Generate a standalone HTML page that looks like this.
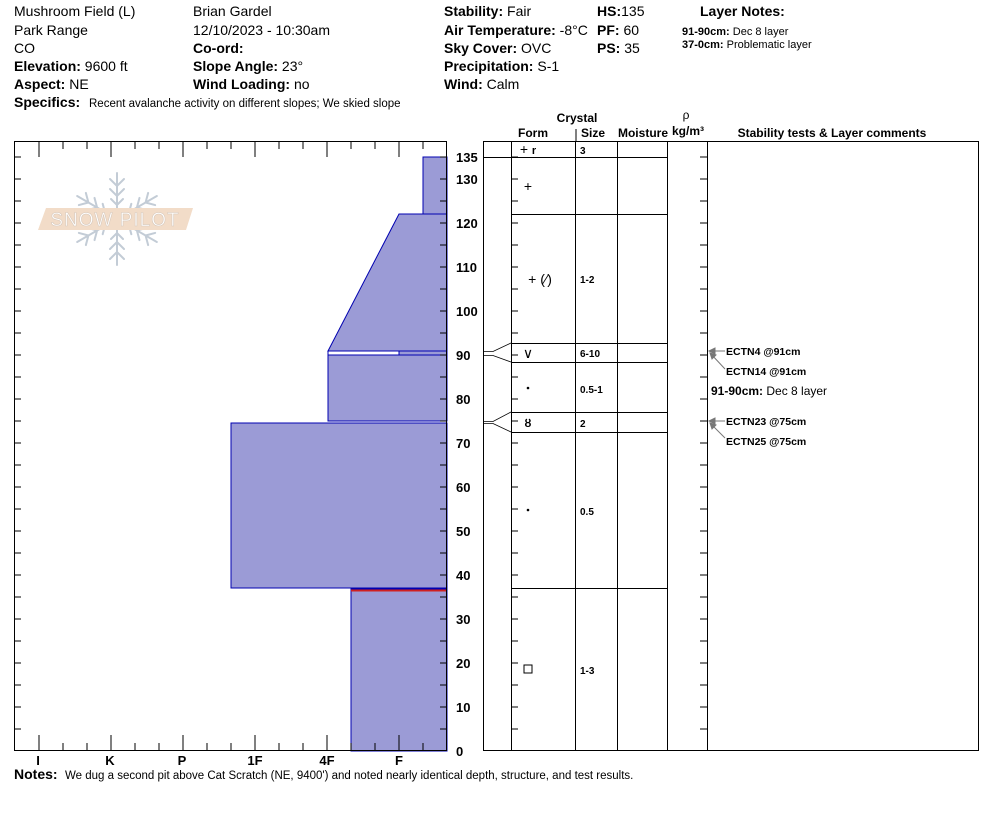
<!DOCTYPE html>
<html><head><meta charset="utf-8"><style>
body{margin:0;background:#fff;}
svg{display:block;font-family:"Liberation Sans",Arial,sans-serif;}
.b{font-weight:bold}
</style></head><body>
<svg width="994" height="840" viewBox="0 0 994 840" xmlns="http://www.w3.org/2000/svg">
<defs>
<path id="tk" d="M0 729h7M0 707h7M0 685h7M0 663h7M0 641h7M0 619h7M0 597h7M0 575h7M0 553h7M0 531h7M0 509h7M0 487h7M0 465h7M0 443h7M0 421h7M0 399h7M0 377h7M0 355h7M0 333h7M0 311h7M0 289h7M0 267h7M0 245h7M0 223h7M0 201h7M0 179h7M0 157h7" stroke="#000" stroke-width="1"/>
<g id="arm" stroke="#c3ccd6" stroke-width="2" fill="none" stroke-linecap="round">
<path d="M0 0V-46M-7 -40L0 -33L7 -40M-7 -30L0 -23L7 -30M-6 -20L0 -14L6 -20"/>
</g>
</defs>
<rect width="994" height="840" fill="#fff"/>
<!-- header -->
<g font-size="14" fill="#000">
<text x="14" y="16">Mushroom Field (L)</text>
<text x="14" y="35">Park Range</text>
<text x="14" y="53">CO</text>
<text x="14" y="71"><tspan class="b">Elevation:</tspan> 9600 ft</text>
<text x="14" y="89"><tspan class="b">Aspect:</tspan> NE</text>
<text x="193" y="16">Brian Gardel</text>
<text x="193" y="35">12/10/2023 - 10:30am</text>
<text x="193" y="53" class="b">Co-ord:</text>
<text x="193" y="71"><tspan class="b">Slope Angle:</tspan> 23°</text>
<text x="193" y="89"><tspan class="b">Wind Loading:</tspan> no</text>
<text x="444" y="16"><tspan class="b">Stability:</tspan> Fair</text>
<text x="444" y="35"><tspan class="b">Air Temperature:</tspan> -8°C</text>
<text x="444" y="53"><tspan class="b">Sky Cover:</tspan> OVC</text>
<text x="444" y="71"><tspan class="b">Precipitation:</tspan> S-1</text>
<text x="444" y="89"><tspan class="b">Wind:</tspan>  Calm</text>
<text x="597" y="16"><tspan class="b">HS:</tspan>135</text>
<text x="597" y="35"><tspan class="b">PF:</tspan> 60</text>
<text x="597" y="53"><tspan class="b">PS:</tspan> 35</text>
<text x="700" y="16" class="b">Layer Notes:</text>
</g>
<text x="682" y="35" font-size="11"><tspan class="b">91-90cm:</tspan> Dec 8 layer</text>
<text x="682" y="48" font-size="11"><tspan class="b">37-0cm:</tspan> Problematic layer</text>
<text x="14" y="107" font-size="14" class="b">Specifics:</text>
<text x="89" y="107" font-size="11.5">Recent avalanche activity on different slopes;  We skied slope</text>

<!-- logo -->
<g transform="translate(117,219)">
<use href="#arm"/>
<use href="#arm" transform="rotate(60)"/>
<use href="#arm" transform="rotate(120)"/>
<use href="#arm" transform="rotate(180)"/>
<use href="#arm" transform="rotate(240)"/>
<use href="#arm" transform="rotate(300)"/>
</g>
<polygon points="46,208 193,208 186,230 38,230" fill="#f2dcc8"/>
<text x="115" y="226" text-anchor="middle" font-size="19" fill="#fff" stroke="#d8c9bc" stroke-width="0.6" letter-spacing="1">SNOW PILOT</text>

<!-- hardness profile -->
<g fill="#9b9bd6" stroke="#0000b0" stroke-width="1">
<rect x="423" y="157" width="24" height="57"/>
<polygon points="399,214 447,214 447,351 328,351"/>
<rect x="328" y="351" width="71" height="4" fill="#fff"/>
<rect x="399" y="351" width="48" height="4"/>
<rect x="328" y="355" width="119" height="66"/>
<rect x="231" y="423" width="216" height="165"/>
<rect x="351" y="589" width="96" height="162"/>
</g>
<line x1="351" y1="590.5" x2="447" y2="590.5" stroke="#d02020" stroke-width="2"/>

<!-- left frame -->
<rect x="14.5" y="141.5" width="432" height="609" fill="none" stroke="#000" stroke-width="1"/>
<g stroke="#000" stroke-width="1">
<path d="M39 141v16M63 141v8M87 141v8M111 141v16M135 141v8M159 141v8M183 141v16M207 141v8M231 141v8M255 141v16M279 141v8M303 141v8M327 141v16M351 141v8M375 141v8M399 141v16M423 141v8"/>
<path d="M39 751v-16M63 751v-8M87 751v-8M111 751v-16M135 751v-8M159 751v-8M183 751v-16M207 751v-8M231 751v-8M255 751v-16M279 751v-8M303 751v-8M327 751v-16M351 751v-8M375 751v-8M399 751v-16M423 751v-8"/>
</g>
<use href="#tk" x="14"/><use href="#tk" x="440"/><use href="#tk" x="511"/><use href="#tk" x="700"/>

<g font-size="13" class="b" text-anchor="middle">
<text x="38" y="765">I</text><text x="110" y="765">K</text><text x="182" y="765">P</text>
<text x="255" y="765">1F</text><text x="327" y="765">4F</text><text x="399" y="765">F</text>
</g>
<g font-size="13" class="b">
<text x="456" y="162">135</text><text x="456" y="184">130</text><text x="456" y="228">120</text>
<text x="456" y="272">110</text><text x="456" y="316">100</text><text x="456" y="360">90</text>
<text x="456" y="404">80</text><text x="456" y="448">70</text><text x="456" y="492">60</text>
<text x="456" y="536">50</text><text x="456" y="580">40</text><text x="456" y="624">30</text>
<text x="456" y="668">20</text><text x="456" y="712">10</text><text x="456" y="756">0</text>
</g>

<!-- table -->
<g font-size="12" class="b" text-anchor="middle">
<text x="577" y="122">Crystal</text>
<text x="533" y="137">Form</text><text x="593" y="137">Size</text><text x="643" y="137">Moisture</text>
<text x="686" y="119" font-weight="normal">ρ</text><text x="688" y="135">kg/m³</text>
<text x="832" y="137">Stability tests &amp; Layer comments</text>
</g>
<line x1="576" y1="129" x2="576" y2="141" stroke="#000"/>
<g stroke="#000" fill="none" stroke-width="1">
<rect x="483.5" y="141.5" width="495" height="609"/>
<path d="M511.5 141v610M575.5 141v610M617.5 141v610M667.5 141v610M707.5 141v610"/>
<path d="M483 157.5h184M511 214.5h156M511 343.5h156M511 362.5h156M511 412.5h156M511 432.5h156M511 588.5h156"/>
<path d="M483 351.5h10L511 343M483 355.5h10L511 362M483 421.5h10L511 412M483 423.5h10L511 432" stroke-width="0.8"/>
</g>
<g font-size="14" text-anchor="middle">
<text x="528" y="154">+ <tspan font-size="11" class="b">r</tspan></text>
<text x="528" y="191">+</text>
<text x="540" y="284">+ (⁄)</text>
<text x="528" y="358">∨</text>
<text x="528" y="427" font-size="11" class="b">ȣ</text>
</g>
<circle cx="528" cy="388" r="1.3" fill="#000"/>
<circle cx="528" cy="510" r="1.3" fill="#000"/>
<rect x="524" y="665" width="8" height="8" fill="none" stroke="#000"/>
<g font-size="10" class="b">
<text x="580" y="154">3</text><text x="580" y="283">1-2</text><text x="580" y="357">6-10</text>
<text x="580" y="393">0.5-1</text><text x="580" y="427">2</text><text x="580" y="515">0.5</text>
<text x="580" y="674">1-3</text>
</g>
<!-- tests -->
<g stroke="#777" stroke-width="1" fill="#777">
<line x1="725" y1="351" x2="710" y2="351"/><polygon points="709,351 715,348 715,354"/>
<line x1="725" y1="369" x2="711" y2="354"/><polygon points="710,353 716,355 712,359"/>
<line x1="725" y1="421" x2="710" y2="421"/><polygon points="709,421 715,418 715,424"/>
<line x1="725" y1="438" x2="711" y2="424"/><polygon points="710,423 716,425 712,429"/>
</g>
<g font-size="10.5" class="b">
<text x="726" y="355">ECTN4 @91cm</text><text x="726" y="375">ECTN14 @91cm</text>
<text x="726" y="425">ECTN23 @75cm</text><text x="726" y="445">ECTN25 @75cm</text>
</g>
<text x="711" y="395" font-size="12"><tspan class="b">91-90cm:</tspan> Dec 8 layer</text>

<text x="14" y="779" font-size="14" class="b">Notes:</text>
<text x="65" y="779" font-size="11.5">We dug a second pit above Cat Scratch (NE, 9400') and noted nearly identical depth, structure, and test results.</text>
</svg>
</body></html>
